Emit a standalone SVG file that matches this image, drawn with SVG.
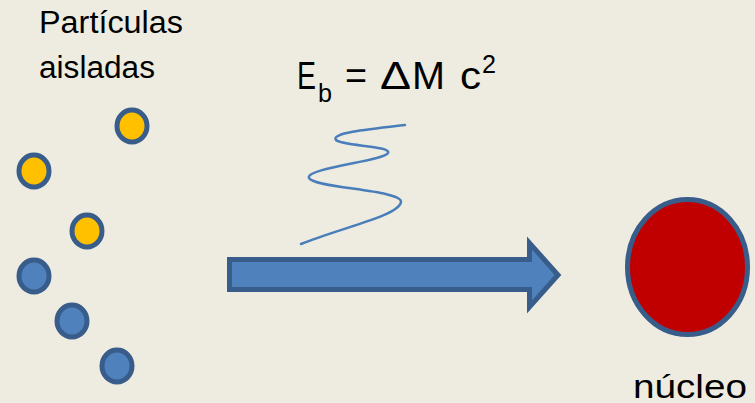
<svg xmlns="http://www.w3.org/2000/svg" width="755" height="403" viewBox="0 0 755 403">
  <style>
    .lbl { font-family: "Liberation Sans", Arial, sans-serif; fill: #000; }
    .eq { font-family: "Liberation Sans", Arial, sans-serif; fill: #000; font-size: 39px; }
    .sm { font-size: 25px; }
    .p { stroke: #385D8A; stroke-width: 5; }
    .y { fill: #FFC000; }
    .b { fill: #4F81BD; }
  </style>
  <rect width="755" height="403" fill="#EEECE1"/>
  <g id="label-particulas">
    <text class="lbl" x="39" y="33" font-size="31" textLength="144" lengthAdjust="spacingAndGlyphs">Partículas</text>
    <text class="lbl" x="39" y="78" font-size="31" textLength="116" lengthAdjust="spacingAndGlyphs">aisladas</text>
  </g>
  <g id="particle-1"><ellipse class="p y" cx="132" cy="126" rx="15" ry="16"/></g>
  <g id="particle-2"><ellipse class="p y" cx="34" cy="171" rx="15" ry="16"/></g>
  <g id="particle-3"><ellipse class="p y" cx="87" cy="231" rx="15" ry="16"/></g>
  <g id="particle-4"><ellipse class="p b" cx="34" cy="276" rx="15" ry="16"/></g>
  <g id="particle-5"><ellipse class="p b" cx="72" cy="321" rx="15" ry="16"/></g>
  <g id="particle-6"><ellipse class="p b" cx="117" cy="366" rx="15" ry="16"/></g>
  <g id="equation">
    <text class="eq" x="297" y="89" textLength="19" lengthAdjust="spacingAndGlyphs">E</text>
    <text class="eq sm" x="318" y="102" textLength="14" lengthAdjust="spacingAndGlyphs">b</text>
    <text class="eq" x="345" y="89" textLength="22" lengthAdjust="spacingAndGlyphs">=</text>
    <text class="eq" x="380" y="89" textLength="31" lengthAdjust="spacingAndGlyphs">Δ</text>
    <text class="eq" x="412" y="89" textLength="33" lengthAdjust="spacingAndGlyphs">M</text>
    <text class="eq" x="460" y="89" textLength="21" lengthAdjust="spacingAndGlyphs">c</text>
    <text class="eq sm" x="482" y="73" textLength="14" lengthAdjust="spacingAndGlyphs">2</text>
  </g>
  <g id="photon">
    <path d="M405,125 C370,129 330,133 336,140 C342,146 392,146 388,153 C384,161 305,168 309,178 C313,188 403,190 401,202 C399,216 340,228 301,244" fill="none" stroke="#4A7EBB" stroke-width="2.5" stroke-linecap="round"/>
  </g>
  <g id="nucleo">
    <ellipse cx="687.5" cy="267" rx="60" ry="67.5" fill="#C00000" stroke="#385D8A" stroke-width="5"/>
    <text class="lbl" x="633" y="398" font-size="34" textLength="114" lengthAdjust="spacingAndGlyphs">núcleo</text>
  </g>
  <g id="connectors">
    <path d="M229.5,259.5 L529.5,259.5 L529.5,243 L558,275 L529.5,307 L529.5,289.5 L229.5,289.5 Z" fill="#4F81BD" stroke="#385D8A" stroke-width="5" stroke-linejoin="miter"/>
  </g>
</svg>
